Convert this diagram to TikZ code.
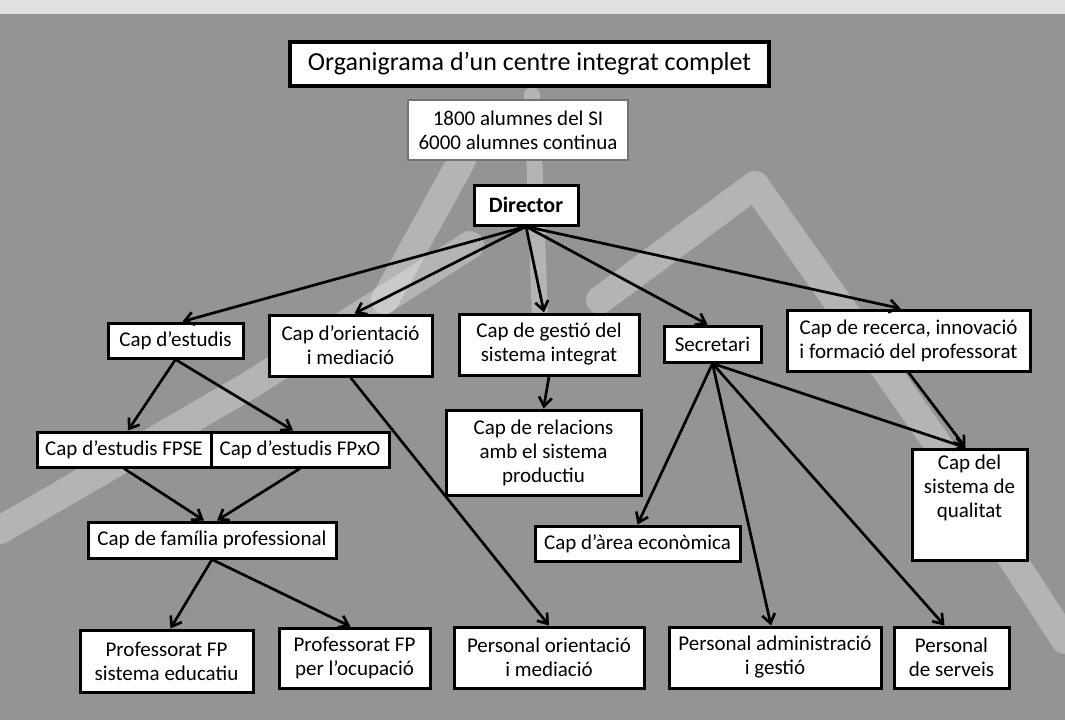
\documentclass[tikz,border=0pt]{standalone}
\usepackage{fontspec}
\setmainfont{Carlito}
\usepackage{tikz}
\usetikzlibrary{arrows.meta}

\begin{document}
\begin{tikzpicture}[x=1pt, y=-1pt,
    box/.style={draw, line width=3pt, fill=white, align=center, inner sep=0pt, font=\fontsize{21}{24}\selectfont},
    titlebox/.style={box, line width=3.4pt, font=\fontsize{26}{30}\selectfont},
    infobox/.style={box, draw=black!55, line width=1.8pt},
    link/.style={-{Straight Barb[length=9pt,width=13pt]}, line width=2.7pt},
    streak/.style={white, opacity=0.3, line width=28pt, line cap=round, line join=round}]

    % Background
    \useasboundingbox (0,0) rectangle (1065,720);
    \clip (0,0) rectangle (1065,720);
    \fill[black!42] (0,0) rectangle (1065,720);
    \fill[black!12] (0,0) rectangle (1065,14);
    \draw[streak] (0,530) -- (250,385) -- (470,245);
    \draw[streak] (462,160) -- (385,300);
    \draw[streak, line width=16pt] (532,95) -- (540,320);
    \draw[streak] (600,300) -- (755,185) -- (935,440) -- (1065,640);

    % Nodes
    \node[titlebox, minimum width=479pt, minimum height=44pt] (title) at (529.5,64) {Organigrama d’un centre integrat complet};
    \node[infobox, minimum width=220pt, minimum height=60pt] (alumnes) at (518,130) {1800 alumnes del SI\\6000 alumnes continua};
    \node[box, minimum width=104pt, minimum height=40pt, font=\fontsize{22}{24}\selectfont\bfseries] (director) at (526,205) {Director};

    \node[box, minimum width=135pt, minimum height=35pt] (estudis) at (175.5,340.5) {Cap d’estudis};
    \node[box, minimum width=163pt, minimum height=61pt] (orientacio) at (350.5,345.5) {Cap d’orientació\\i mediació};
    \node[box, minimum width=180pt, minimum height=61pt] (gestio) at (549,344.5) {Cap de gestió del\\sistema integrat};
    \node[box, minimum width=97pt, minimum height=36pt] (secretari) at (712.5,344) {Secretari};
    \node[box, minimum width=243pt, minimum height=61pt] (recerca) at (908.5,340.5) {Cap de recerca, innovació\\i formació del professorat};

    \node[box, minimum width=174pt, minimum height=35pt] (fpse) at (124,449.5) {Cap d’estudis FPSE};
    \node[box, minimum width=178pt, minimum height=35pt] (fpxo) at (300,449.5) {Cap d’estudis FPxO};
    \node[box, minimum width=195pt, minimum height=85pt] (relacions) at (543.5,452.5) {Cap de relacions\\amb el sistema\\productiu};
    \node[box, minimum width=115pt, minimum height=111pt] (qualitat) at (969.5,504.5) {\parbox[c][100pt][t]{110pt}{\centering Cap del\\sistema de\\qualitat}};

    \node[box, minimum width=248pt, minimum height=36pt] (familia) at (212,540) {Cap de família professional};
    \node[box, minimum width=205pt, minimum height=35pt] (area) at (637.5,543.5) {Cap d’àrea econòmica};

    \node[box, minimum width=173pt, minimum height=62pt] (profse) at (166.5,661) {Professorat FP\\sistema educatiu};
    \node[box, minimum width=151pt, minimum height=60pt] (profocup) at (354.5,658) {Professorat FP\\per l’ocupació};
    \node[box, minimum width=190pt, minimum height=61pt] (persorient) at (549,657.5) {Personal orientació\\i mediació};
    \node[box, minimum width=212pt, minimum height=61pt] (persadmin) at (775,657.5) {Personal administració\\i gestió};
    \node[box, minimum width=115pt, minimum height=61pt] (persserveis) at (951.5,657.5) {Personal\\de serveis};

    % Edges
    \draw[link] (director.south) -- ([xshift=7pt]estudis.north);
    \draw[link] (director.south) -- ([xshift=4pt]orientacio.north);
    \draw[link] (director.south) -- ([xshift=-5pt]gestio.north);
    \draw[link] (director.south) -- ([xshift=-5pt]secretari.north);
    \draw[link] (director.south) -- ([xshift=-8pt]recerca.north);

    \draw[link] (estudis.south) -- ([xshift=4pt]fpse.north);
    \draw[link] (estudis.south) -- ([xshift=-7pt]fpxo.north);
    \draw[link] (fpse.south) -- ([xshift=-8pt]familia.north);
    \draw[link] (fpxo.south) -- ([xshift=5pt]familia.north);
    \draw[link] (familia.south) -- ([xshift=4pt]profse.north);
    \draw[link] (familia.south) -- ([xshift=-4pt]profocup.north);

    \draw[link] (orientacio.south) -- (persorient.north);
    \draw[link] (gestio.south) -- (relacions.north);

    \draw[link] (secretari.south) -- (area.north);
    \draw[link] (secretari.south) -- ([xshift=-4pt]persadmin.north);
    \draw[link] (secretari.south) -- ([xshift=-7pt]persserveis.north);
    \draw[link] (secretari.south) -- ([xshift=-4pt]qualitat.north);
    \draw[link] (recerca.south) -- ([xshift=-4pt]qualitat.north);
\end{tikzpicture}
\end{document}
